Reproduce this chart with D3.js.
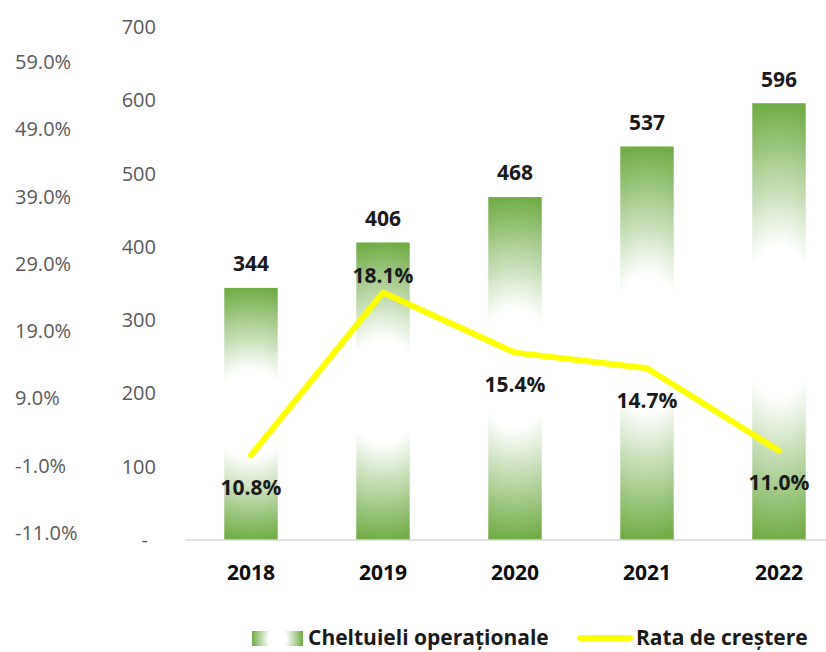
<!DOCTYPE html>
<html>
<head>
<meta charset="utf-8">
<script src="https://cdn.jsdelivr.net/npm/d3@7"></script>
<style>
  body { margin: 0; background: #fff; }
  svg { font-family: "Open Sans", sans-serif; }
</style>
</head>
<body>
<svg width="826" height="652"></svg>
<script>
let years = ['2018', '2019', '2020', '2021', '2022'];
let costs = [344, 406, 468, 537, 596];
let growth = [10.8, 18.1, 15.4, 14.7, 11.0];
let growthPos = ['below', 'above', 'below', 'below', 'below'];
let valueTicks = [0, 100, 200, 300, 400, 500, 600, 700];
let pctTicks = [-11, -1, 9, 19, 29, 39, 49, 59];

let svg = d3.select('svg');
let green = '#70ad47';

let defs = svg.append('defs');
let barGrad = defs.append('radialGradient')
    .attr('id', 'barGrad')
    .attr('cx', 0.5).attr('cy', 0.5).attr('r', 0.5)
    .attr('gradientTransform', 'translate(0.5,0.5) scale(4,1) translate(-0.5,-0.5)');
barGrad.append('stop').attr('offset', 0).attr('stop-color', '#fff');
barGrad.append('stop').attr('offset', 0.35).attr('stop-color', '#fff');
barGrad.append('stop').attr('offset', 1).attr('stop-color', green);

let legGrad = defs.append('radialGradient')
    .attr('id', 'legGrad')
    .attr('cx', 0.5).attr('cy', 0.5).attr('r', 0.5)
    .attr('gradientTransform', 'translate(0.5,0.5) scale(1,4) translate(-0.5,-0.5)');
legGrad.append('stop').attr('offset', 0).attr('stop-color', '#fff');
legGrad.append('stop').attr('offset', 0.35).attr('stop-color', '#fff');
legGrad.append('stop').attr('offset', 1).attr('stop-color', green);

let xScale = d3.scaleBand()
    .domain(years)
    .range([185, 845]);

let yScale = d3.scaleLinear()
    .domain([0, 700])
    .range([540, 27]);

// hidden axis of the line series
let lineScale = d3.scaleLinear()
    .domain([7, 30])
    .range([540, 27]);

// percent labels shown on the far left
let pctScale = d3.scaleLinear()
    .domain([-11, 59])
    .range([533, 62]);

let barW = xScale.bandwidth() * 0.405;

// value axis labels
svg.append('g')
    .selectAll('text')
    .data(valueTicks)
    .enter()
    .append('text')
    .attr('x', d => d == 0 ? 148 : 156)
    .attr('y', d => yScale(d))
    .attr('dy', '0.35em')
    .attr('text-anchor', 'end')
    .attr('fill', '#595959')
    .style('font-size', '20px')
    .text(d => d == 0 ? '-' : d);

// percent labels
svg.append('g')
    .selectAll('text')
    .data(pctTicks)
    .enter()
    .append('text')
    .attr('x', 15)
    .attr('y', d => pctScale(d))
    .attr('dy', '0.35em')
    .attr('fill', '#595959')
    .style('font-size', '20px')
    .text(d => d.toFixed(1) + '%');

// bars
svg.selectAll('rect.bar')
    .data(costs)
    .enter()
    .append('rect')
    .attr('class', 'bar')
    .attr('x', (d, i) => xScale(years[i]) + xScale.bandwidth() / 2 - barW / 2)
    .attr('y', d => yScale(d))
    .attr('width', barW)
    .attr('height', d => yScale(0) - yScale(d))
    .attr('fill', 'url(#barGrad)');

// baseline
svg.append('line')
    .attr('x1', 185).attr('x2', 826)
    .attr('y1', yScale(0)).attr('y2', yScale(0))
    .attr('stroke', '#d9d9d9')
    .attr('stroke-width', 1.5);

// category labels
svg.append('g')
    .selectAll('text')
    .data(years)
    .enter()
    .append('text')
    .attr('x', d => xScale(d) + xScale.bandwidth() / 2)
    .attr('y', 573)
    .attr('dy', '0.35em')
    .attr('text-anchor', 'middle')
    .attr('fill', '#0d0d0d')
    .style('font-size', '21px')
    .style('font-weight', 'bold')
    .text(d => d);

// line
let line = d3.line()
    .x((d, i) => xScale(years[i]) + xScale.bandwidth() / 2)
    .y(d => lineScale(d));

svg.append('path')
    .datum(growth)
    .attr('d', line)
    .attr('fill', 'none')
    .attr('stroke', '#ffff00')
    .attr('stroke-width', 6)
    .attr('stroke-linecap', 'round')
    .attr('stroke-linejoin', 'round');

// bar value labels
svg.append('g')
    .selectAll('text')
    .data(costs)
    .enter()
    .append('text')
    .attr('x', (d, i) => xScale(years[i]) + xScale.bandwidth() / 2)
    .attr('y', d => yScale(d) - 24)
    .attr('dy', '0.35em')
    .attr('text-anchor', 'middle')
    .attr('fill', '#1a1a1a')
    .style('font-size', '21px')
    .style('font-weight', 'bold')
    .text(d => d);

// growth labels
svg.append('g')
    .selectAll('text')
    .data(growth)
    .enter()
    .append('text')
    .attr('x', (d, i) => xScale(years[i]) + xScale.bandwidth() / 2)
    .attr('y', (d, i) => lineScale(d) + (growthPos[i] == 'above' ? -17 : 32))
    .attr('dy', '0.35em')
    .attr('text-anchor', 'middle')
    .attr('fill', '#1a1a1a')
    .style('font-size', '21px')
    .style('font-weight', 'bold')
    .text(d => d.toFixed(1) + '%');

// legend
let legend = svg.append('g');
legend.append('rect')
    .attr('x', 252).attr('y', 631)
    .attr('width', 51).attr('height', 15)
    .attr('fill', 'url(#legGrad)');
legend.append('text')
    .attr('x', 308).attr('y', 638)
    .attr('dy', '0.35em')
    .attr('fill', '#1a1a1a')
    .style('font-size', '21px')
    .style('font-weight', 'bold')
    .text('Cheltuieli operaționale');
legend.append('line')
    .attr('x1', 580).attr('x2', 630)
    .attr('y1', 638).attr('y2', 638)
    .attr('stroke', '#ffff00')
    .attr('stroke-width', 6)
    .attr('stroke-linecap', 'round');
legend.append('text')
    .attr('x', 636).attr('y', 638)
    .attr('dy', '0.35em')
    .attr('fill', '#1a1a1a')
    .style('font-size', '21px')
    .style('font-weight', 'bold')
    .text('Rata de creștere');
</script>
</body>
</html>
